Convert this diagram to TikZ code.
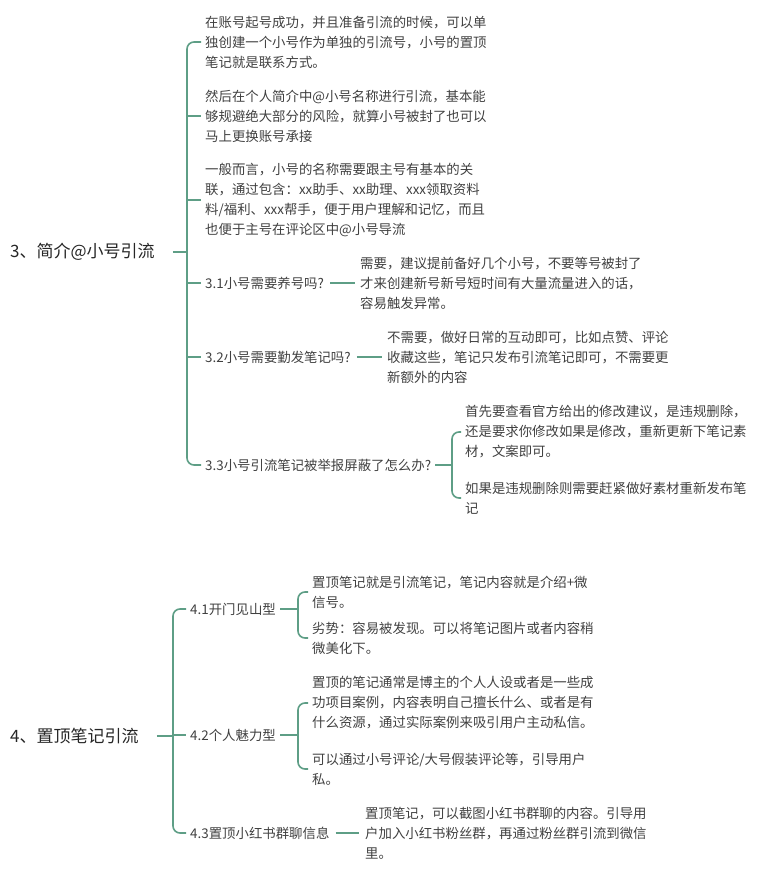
\documentclass[tikz,border=0pt]{standalone}
\usepackage{fontspec}
\setmainfont{Noto Sans CJK SC}
\begin{document}
\begin{tikzpicture}[x=1pt,y=-1pt,
  txt/.style={anchor=west, align=left, inner sep=0pt, text=black!75, font=\fontsize{13.4}{20}\selectfont},
  root/.style={anchor=west, inner sep=0pt, text=black!85, font=\fontsize{17}{20}\selectfont}]
\useasboundingbox (0,0) rectangle (765,879);
\definecolor{brc}{HTML}{5E9E86}
\tikzset{br/.style={draw=brc, line width=1.6pt, rounded corners=7pt}}
% section 3
\node[root] (r3) at (10,252) {3、简介@小号引流};
\node[txt] (a1) at (205,42) {在账号起号成功，并且准备引流的时候，可以单\\独创建一个小号作为单独的引流号，小号的置顶\\笔记就是联系方式。};
\node[txt] (a2) at (205,116) {然后在个人简介中@小号名称进行引流，基本能\\够规避绝大部分的风险，就算小号被封了也可以\\马上更换账号承接};
\node[txt] (a3) at (205,200) {一般而言，小号的名称需要跟主号有基本的关\\联，通过包含：xx助手、xx助理、xxx领取资料\\料/福利、xxx帮手，便于用户理解和记忆，而且\\也便于主号在评论区中@小号导流};
\node[txt] (a4) at (205,283) {3.1小号需要养号吗?};
\node[txt] (a5) at (205,357) {3.2小号需要勤发笔记吗?};
\node[txt] (a6) at (205,465) {3.3小号引流笔记被举报屏蔽了怎么办?};
\node[txt] (b1) at (360,283) {需要，建议提前备好几个小号，不要等号被封了\\才来创建新号新号短时间有大量流量进入的话，\\容易触发异常。};
\node[txt] (b2) at (387,357) {不需要，做好日常的互动即可，比如点赞、评论\\收藏这些，笔记只发布引流笔记即可，不需要更\\新额外的内容};
\node[txt] (b3) at (465,432) {首先要查看官方给出的修改建议，是违规删除，\\还是要求你修改如果是修改，重新更新下笔记素\\材，文案即可。};
\node[txt] (b4) at (465,498) {如果是违规删除则需要赶紧做好素材重新发布笔\\记};
\coordinate (t3) at (187,252);
\draw[br] (r3.east)+(18,0) -- (t3);
\draw[br] ([xshift=-4pt]a1.west) -| (t3) |- ([xshift=-4pt]a6.west);
\foreach \n in {a2,a3,a4,a5} \draw[br] (t3 |- \n.west) -- ([xshift=-4pt]\n.west);
\draw[br] (a4.east)+(6,0) -- ([xshift=-5pt]b1.west);
\draw[br] (a5.east)+(6,0) -- ([xshift=-5pt]b2.west);
\coordinate (t33) at (452,465);
\draw[br] (a6.east)+(4,0) -- (t33);
\draw[br] ([xshift=-4pt]b3.west) -| (t33) |- ([xshift=-4pt]b4.west);
% section 4
\node[root] (r4) at (10,736) {4、置顶笔记引流};
\node[txt] (c1) at (190,609) {4.1开门见山型};
\node[txt] (c2) at (190,735) {4.2个人魅力型};
\node[txt] (c3) at (190,833) {4.3置顶小红书群聊信息};
\node[txt] (d1) at (312,592) {置顶笔记就是引流笔记，笔记内容就是介绍+微\\信号。};
\node[txt] (d2) at (312,638) {劣势：容易被发现。可以将笔记图片或者内容稍\\微美化下。};
\node[txt] (d3) at (312,703) {置顶的笔记通常是博主的个人人设或者是一些成\\功项目案例，内容表明自己擅长什么、或者是有\\什么资源，通过实际案例来吸引用户主动私信。};
\node[txt] (d4) at (312,769) {可以通过小号评论/大号假装评论等，引导用户\\私。};
\node[txt] (d5) at (365,833) {置顶笔记，可以截图小红书群聊的内容。引导用\\户加入小红书粉丝群，再通过粉丝群引流到微信\\里。};
\coordinate (t4) at (173,736);
\draw[br] (r4.east)+(18,0) -- (t4);
\draw[br] ([xshift=-4pt]c1.west) -| (t4) |- ([xshift=-4pt]c3.west);
\draw[br] (t4 |- c2.west) -- ([xshift=-4pt]c2.west);
\coordinate (t41) at (298,609);
\coordinate (t42) at (298,735);
\draw[br] (c1.east)+(4,0) -- (t41);
\draw[br] (c2.east)+(4,0) -- (t42);
\draw[br] ([xshift=-4pt]d1.west) -| (t41) |- ([xshift=-4pt]d2.west);
\draw[br] ([xshift=-4pt]d3.west) -| (t42) |- ([xshift=-4pt]d4.west);
\draw[br] (c3.east)+(6,0) -- ([xshift=-6pt]d5.west);
\end{tikzpicture}
\end{document}
